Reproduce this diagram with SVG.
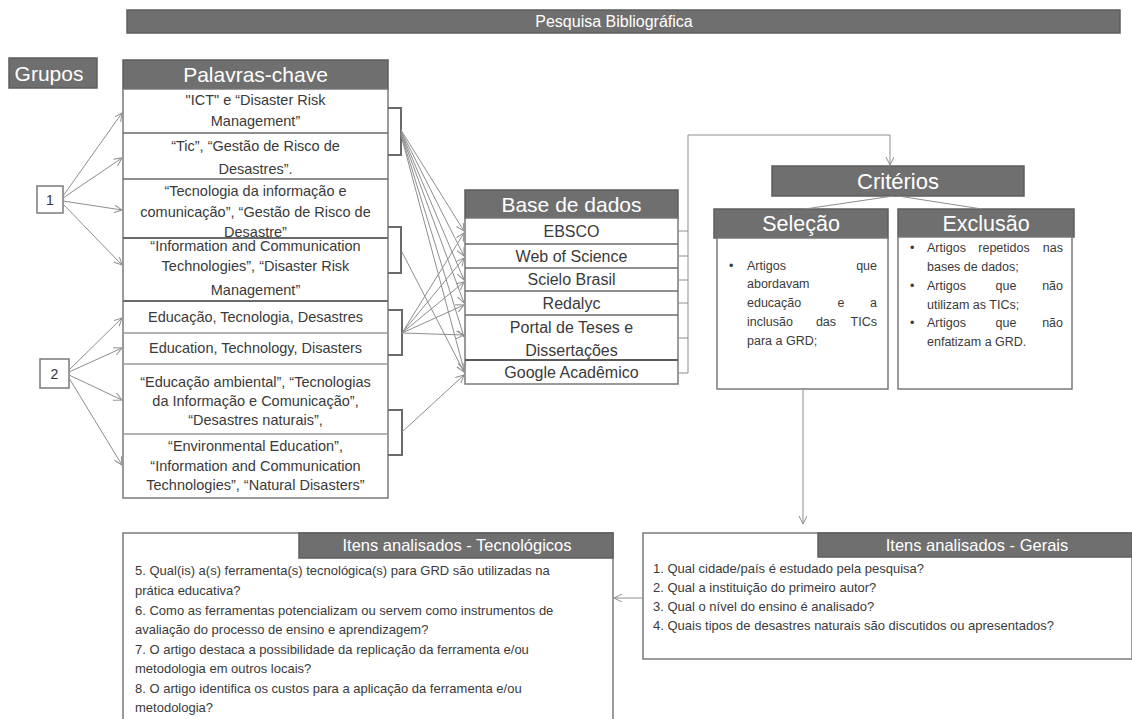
<svg xmlns="http://www.w3.org/2000/svg" width="1132" height="719" viewBox="0 0 1132 719">
<style>
text{font-family:"Liberation Sans",Arial,sans-serif;}
.hd{fill:#6f6f6f;stroke:#5e5e5e;stroke-width:1.5;}
.hdt{fill:#ffffff;text-anchor:middle;}
.box{fill:#ffffff;stroke:#7a7a7a;stroke-width:1.5;}
.row{font-size:14.5px;fill:#3a3a3a;text-anchor:middle;}
.db{font-size:16px;fill:#3a3a3a;text-anchor:middle;}
.sm{font-size:12.5px;fill:#3a3a3a;}
.q{font-size:13px;fill:#3a3a3a;}
.br{fill:none;stroke:#6a6a6a;stroke-width:2;}
.ln{fill:none;stroke:#8e8e8e;stroke-width:1;}
.ar{fill:none;stroke:#8e8e8e;stroke-width:1;marker-end:url(#ah);}
</style>
<defs>
<marker id="ah" markerUnits="userSpaceOnUse" markerWidth="10" markerHeight="10" refX="8" refY="4" orient="auto">
<path d="M0,0 L8,4 L0,8" fill="none" stroke="#8e8e8e" stroke-width="1"/>
</marker>
</defs>
<rect width="1132" height="719" fill="#ffffff"/>

<g id="banner">
<rect x="127" y="10" width="993" height="23" class="hd"/>
<text x="614" y="27" class="hdt" font-size="16">Pesquisa Bibliográfica</text>
</g>

<g id="grupos">
<rect x="9" y="58" width="88" height="30" class="hd"/>
<text x="49" y="81" class="hdt" font-size="21">Grupos</text>
</g>

<g id="g1">
<rect x="37" y="186" width="26" height="27" class="box"/>
<text x="50" y="205" font-size="14" fill="#333" text-anchor="middle">1</text>
</g>
<g id="g2">
<rect x="40" y="359" width="29" height="29" class="box"/>
<text x="54.5" y="379" font-size="14" fill="#333" text-anchor="middle">2</text>
</g>

<g id="palavras">
<rect x="123" y="60" width="265" height="29" class="hd"/>
<text x="255.5" y="82" class="hdt" font-size="21">Palavras-chave</text>
<rect x="123" y="89" width="265" height="409" class="box"/>
<line x1="123" y1="133" x2="388" y2="133" stroke="#6a6a6a" stroke-width="1.5"/>
<line x1="123" y1="179" x2="388" y2="179" stroke="#6a6a6a" stroke-width="1.5"/>
<line x1="123" y1="238" x2="388" y2="238" stroke="#6a6a6a" stroke-width="2"/>
<line x1="123" y1="301" x2="388" y2="301" stroke="#6a6a6a" stroke-width="2"/>
<line x1="123" y1="333" x2="388" y2="333" stroke="#9a9a9a" stroke-width="1.5"/>
<line x1="123" y1="364" x2="388" y2="364" stroke="#9a9a9a" stroke-width="1.5"/>
<line x1="123" y1="434" x2="388" y2="434" stroke="#9a9a9a" stroke-width="1.5"/>
<text class="row" x="255.5" y="105">"ICT" e “Disaster Risk</text>
<text class="row" x="255.5" y="126">Management”</text>
<text class="row" x="255.5" y="151">“Tic”, “Gestão de Risco de</text>
<text class="row" x="255.5" y="174">Desastres”.</text>
<text class="row" x="255.5" y="196">“Tecnologia da informação e</text>
<text class="row" x="255.5" y="217">comunicação”, “Gestão de Risco de</text>
<text class="row" x="255.5" y="237">Desastre”</text>
<text class="row" x="255.5" y="251">“Information and Communication</text>
<text class="row" x="255.5" y="271">Technologies”, “Disaster Risk</text>
<text class="row" x="255.5" y="295">Management”</text>
<text class="row" x="255.5" y="322">Educação, Tecnologia, Desastres</text>
<text class="row" x="255.5" y="353">Education, Technology, Disasters</text>
<text class="row" x="255.5" y="387">“Educação ambiental”, “Tecnologias</text>
<text class="row" x="255.5" y="406">da Informação e Comunicação”,</text>
<text class="row" x="255.5" y="425">“Desastres naturais”,</text>
<text class="row" x="255.5" y="451">“Environmental Education”,</text>
<text class="row" x="255.5" y="471">“Information and Communication</text>
<text class="row" x="255.5" y="490">Technologies”, “Natural Disasters”</text>
</g>

<g id="brackets">
<path class="br" d="M388,108 H401 V155 H388"/>
<path class="br" d="M388,227 H401 V273 H388"/>
<path class="br" d="M388,310 H402 V355 H388" stroke="#8a8a8a"/>
<path class="br" d="M388,410 H402 V455 H388" stroke="#8a8a8a"/>
</g>

<g id="basedados">
<rect x="465" y="190" width="213" height="28" class="hd"/>
<text x="571.5" y="212" class="hdt" font-size="21">Base de dados</text>
<rect x="465" y="218" width="213" height="166" class="box" stroke="#6a6a6a"/>
<line x1="465" y1="244" x2="678" y2="244" stroke="#6a6a6a" stroke-width="1.5"/>
<line x1="465" y1="268" x2="678" y2="268" stroke="#6a6a6a" stroke-width="1.5"/>
<line x1="465" y1="291" x2="678" y2="291" stroke="#6a6a6a" stroke-width="1.5"/>
<line x1="465" y1="315" x2="678" y2="315" stroke="#6a6a6a" stroke-width="1.5"/>
<line x1="465" y1="360" x2="678" y2="360" stroke="#5a5a5a" stroke-width="2"/>
<text class="db" x="571.5" y="237">EBSCO</text>
<text class="db" x="571.5" y="262">Web of Science</text>
<text class="db" x="571.5" y="285">Scielo Brasil</text>
<text class="db" x="571.5" y="309">Redalyc</text>
<text class="db" x="571.5" y="333">Portal de Teses e</text>
<text class="db" x="571.5" y="356">Dissertações</text>
<text class="db" x="571.5" y="378">Google Acadêmico</text>
</g>

<g id="criterios">
<rect x="772" y="166" width="252" height="30" class="hd"/>
<text x="898" y="189" class="hdt" font-size="22">Critérios</text>
</g>

<g id="selecao">
<rect x="714" y="209" width="174" height="29" class="hd"/>
<text x="801" y="231" class="hdt" font-size="21.5">Seleção</text>
<rect x="717" y="238" width="171" height="151" class="box"/>
<text class="sm" x="729" y="270">•</text>
<text class="sm" x="747" y="270">Artigos</text>
<text class="sm" x="877" y="270" text-anchor="end">que</text>
<text class="sm" x="747" y="288">abordavam</text>
<text class="sm" x="747" y="307">educação</text>
<text class="sm" x="841" y="307" text-anchor="middle">e</text>
<text class="sm" x="877" y="307" text-anchor="end">a</text>
<text class="sm" x="747" y="326">inclusão</text>
<text class="sm" x="826" y="326" text-anchor="middle">das</text>
<text class="sm" x="877" y="326" text-anchor="end">TICs</text>
<text class="sm" x="747" y="345">para a  GRD;</text>
</g>

<g id="exclusao">
<rect x="898" y="209" width="176" height="28" class="hd"/>
<text x="986" y="231" class="hdt" font-size="21.5">Exclusão</text>
<rect x="898" y="237" width="174" height="152" class="box"/>
<text class="sm" x="910" y="252">•</text>
<text class="sm" x="927" y="252">Artigos</text>
<text class="sm" x="1004" y="252" text-anchor="middle">repetidos</text>
<text class="sm" x="1063" y="252" text-anchor="end">nas</text>
<text class="sm" x="927" y="271">bases de dados;</text>
<text class="sm" x="910" y="290">•</text>
<text class="sm" x="927" y="290">Artigos</text>
<text class="sm" x="1006" y="290" text-anchor="middle">que</text>
<text class="sm" x="1063" y="290" text-anchor="end">não</text>
<text class="sm" x="927" y="309">utilizam as TICs;</text>
<text class="sm" x="910" y="327">•</text>
<text class="sm" x="927" y="327">Artigos</text>
<text class="sm" x="1006" y="327" text-anchor="middle">que</text>
<text class="sm" x="1063" y="327" text-anchor="end">não</text>
<text class="sm" x="927" y="346">enfatizam a GRD.</text>
</g>

<g id="gerais">
<rect x="643" y="533" width="489" height="126" class="box" stroke-width="2"/>
<rect x="818" y="533" width="314" height="24" class="hd"/>
<text x="977" y="551" class="hdt" font-size="16.5">Itens analisados - Gerais</text>
<text class="q" x="653" y="573" font-size="13.5">1. Qual cidade/país é estudado pela pesquisa?</text>
<text class="q" x="653" y="592" font-size="13.5">2. Qual a instituição do primeiro autor?</text>
<text class="q" x="653" y="611" font-size="13.5">3. Qual o nível do ensino é analisado?</text>
<text class="q" x="653" y="630" font-size="13.5">4. Quais tipos de desastres naturais são discutidos ou apresentados?</text>
</g>

<g id="tecnologicos">
<rect x="123" y="533" width="490" height="200" class="box" stroke-width="2"/>
<rect x="299" y="533" width="314" height="25" class="hd"/>
<text x="457" y="551" class="hdt" font-size="16.5">Itens analisados - Tecnológicos</text>
<text class="q" x="135" y="575">5. Qual(is) a(s) ferramenta(s) tecnológica(s) para GRD são utilizadas na</text>
<text class="q" x="135" y="595">prática educativa?</text>
<text class="q" x="135" y="615">6. Como as ferramentas potencializam ou servem como instrumentos de</text>
<text class="q" x="135" y="634">avaliação do processo de ensino e aprendizagem?</text>
<text class="q" x="135" y="654">7. O artigo destaca a possibilidade da replicação da ferramenta e/ou</text>
<text class="q" x="135" y="673">metodologia em outros locais?</text>
<text class="q" x="135" y="693">8. O artigo identifica os custos para a aplicação da ferramenta e/ou</text>
<text class="q" x="135" y="712">metodologia?</text>
</g>

<g id="connectors">
<path class="ar" d="M63,196 L122,113"/>
<path class="ar" d="M63,198 L122,158"/>
<path class="ar" d="M63,201 L122,210"/>
<path class="ar" d="M63,204 L122,265"/>
<path class="ar" d="M69,370 L122,318"/>
<path class="ar" d="M69,372 L122,348"/>
<path class="ar" d="M69,375 L122,400"/>
<path class="ar" d="M69,378 L122,465"/>
<path class="ar" d="M401,130 L464,231"/>
<path class="ar" d="M401,131 L464,256"/>
<path class="ar" d="M401,132 L464,280"/>
<path class="ar" d="M401,133 L464,303"/>
<path class="ar" d="M401,134 L464,337"/>
<path class="ar" d="M401,135 L464,370"/>
<path class="ar" d="M402,252 L464,372"/>
<path class="ar" d="M402,333 L464,233"/>
<path class="ar" d="M402,333 L464,258"/>
<path class="ar" d="M402,333 L464,282"/>
<path class="ar" d="M402,333 L464,305"/>
<path class="ar" d="M402,333 L464,335"/>
<path class="ar" d="M402,432 L464,375"/>
<path class="ln" d="M678,231 H688 M678,256 H688 M678,280 H688 M678,303 H688 M678,338 H688 M678,373 H688"/>
<path class="ar" d="M688,373 V135 H890 V165"/>
<path class="ln" d="M893,196 L805,209 M898,196 L982,209"/>
<path class="ar" d="M803,389 V524"/>
<path class="ar" d="M643,598 H614"/>
</g>
</svg>
